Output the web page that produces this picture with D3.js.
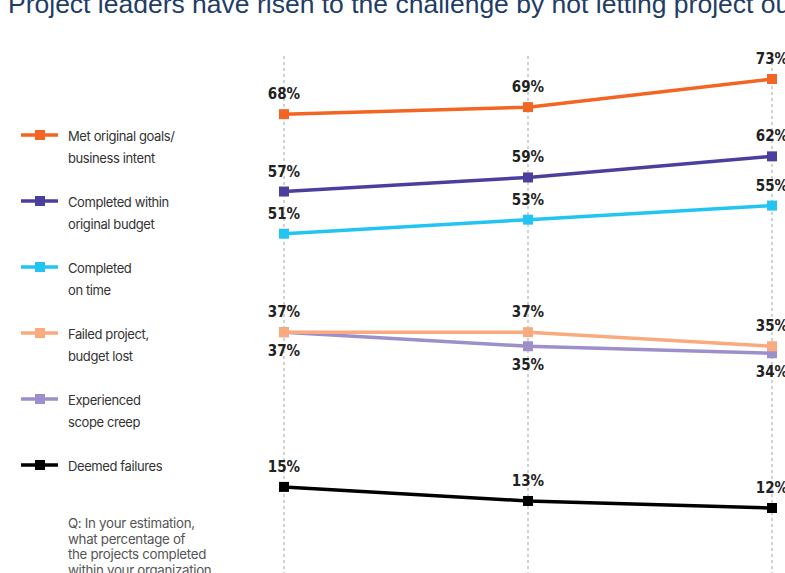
<!DOCTYPE html>
<html><head><meta charset="utf-8">
<script src="https://cdn.jsdelivr.net/npm/d3@7"></script>
<style>
html,body{margin:0;padding:0;background:#fff;overflow:hidden;}
svg{display:block;}
</style></head>
<body>
<svg id="chart" width="785" height="573"></svg>
<script>
const titleText = "Project leaders have risen to the challenge by not letting project outcomes slip";
const periods = ["P1", "P2", "P3"];
const seriesNames = [
  ["Met original goals/", "business intent"],
  ["Completed within", "original budget"],
  ["Completed", "on time"],
  ["Failed project,", "budget lost"],
  ["Experienced", "scope creep"],
  ["Deemed failures"]
];
const seriesColors = ["#f26522", "#4b3f9e", "#22c4f2", "#f9aa7e", "#9d8fcb", "#000000"];
const metGoals = [68, 69, 73];
const withinBudget = [57, 59, 62];
const onTime = [51, 53, 55];
const failedBudgetLost = [37, 37, 35];
const scopeCreep = [37, 35, 34];
const deemedFailures = [15, 13, 12];
const labelBelow = [false, false, false, false, true, false];
const noteLines = ["Q: In your estimation,", "what percentage of", "the projects completed", "within your organization"];

const allSeries = [metGoals, withinBudget, onTime, failedBudgetLost, scopeCreep, deemedFailures];

const svg = d3.select("#chart");

svg.append("text").attr("x", 8).attr("y", 12.5)
  .attr("font-family", "Liberation Sans, Arial, sans-serif").attr("font-size", 26.5)
  .attr("fill", "#1f3d66").text(titleText);

const x = d3.scalePoint().domain(periods).range([284, 772]);
const y = d3.scaleLinear().domain([12, 73]).range([508, 79]);

// gridlines
svg.append("g").selectAll("line").data(periods).join("line")
  .attr("x1", d => x(d)).attr("x2", d => x(d))
  .attr("y1", 56).attr("y2", 573)
  .attr("stroke", "#b5b5b5").attr("stroke-width", 1.2).attr("stroke-dasharray", "3,3");

const line = d3.line().x((d, i) => x(periods[i])).y(d => y(d));

// draw in order so peach sits over lavender
const drawOrder = [5, 4, 3, 2, 1, 0];
drawOrder.forEach(k => {
  const vals = allSeries[k];
  const g = svg.append("g");
  g.append("path").datum(vals).attr("d", line).attr("fill", "none")
    .attr("stroke", seriesColors[k]).attr("stroke-width", 3.5);
  g.selectAll("rect").data(vals).join("rect")
    .attr("x", (d, i) => x(periods[i]) - 5).attr("y", d => y(d) - 5)
    .attr("width", 10).attr("height", 10).attr("fill", seriesColors[k]);
});

// value labels
allSeries.forEach((vals, k) => {
  svg.append("g").selectAll("text").data(vals).join("text")
    .attr("x", (d, i) => x(periods[i]))
    .attr("y", d => labelBelow[k] ? y(d) + 24 : y(d) - 15)
    .attr("text-anchor", "middle")
    .attr("font-family", "Liberation Sans Narrow, DejaVu Sans Condensed, sans-serif")
    .attr("font-weight", "bold")
    .attr("font-size", 15).attr("fill", "#222")
    .text(d => d + "%");
});

// legend
const lg = svg.append("g");
seriesNames.forEach((lines, k) => {
  const cy = 135 + k * 66;
  lg.append("line").attr("x1", 21).attr("x2", 58).attr("y1", cy).attr("y2", cy)
    .attr("stroke", seriesColors[k]).attr("stroke-width", 3.5);
  lg.append("rect").attr("x", 35).attr("y", cy - 5).attr("width", 10).attr("height", 10)
    .attr("fill", seriesColors[k]);
  lines.forEach((t, j) => {
    lg.append("text").attr("x", 68).attr("y", cy + 6 + j * 22)
      .attr("font-family", "Inter, Lato, sans-serif").attr("font-size", 13)
      .attr("letter-spacing", -0.4).attr("fill", "#333").text(t);
  });
});

noteLines.forEach((t, j) => {
  svg.append("text").attr("x", 68).attr("y", 528 + j * 15.5)
    .attr("font-family", "Inter, Lato, sans-serif").attr("font-size", 13.3)
    .attr("letter-spacing", -0.3).attr("fill", "#555").text(t);
});
</script>
</body></html>
